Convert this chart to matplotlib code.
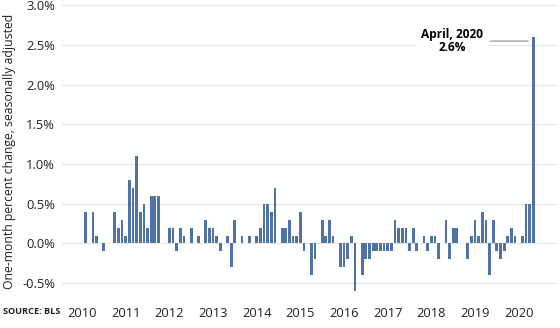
import matplotlib.pyplot as plt
from matplotlib.ticker import FuncFormatter

# monthly food-at-home CPI change, Jan 2010 - Apr 2020 (percent, SA)
pct_2010 = [0.4, 0.0, 0.4, 0.1, 0.0, -0.1, 0.0, 0.0, 0.4, 0.2, 0.3, 0.1]
pct_2011 = [0.8, 0.7, 1.1, 0.4, 0.5, 0.2, 0.6, 0.6, 0.6, 0.0, 0.0, 0.2]
pct_2012 = [0.2, -0.1, 0.2, 0.1, 0.0, 0.2, 0.0, 0.1, 0.0, 0.3, 0.2, 0.2]
pct_2013 = [0.1, -0.1, 0.0, 0.1, -0.3, 0.3, 0.0, 0.1, 0.0, 0.1, 0.0, 0.1]
pct_2014 = [0.2, 0.5, 0.5, 0.4, 0.7, 0.0, 0.2, 0.2, 0.3, 0.1, 0.1, 0.4]
pct_2015 = [-0.1, 0.0, -0.4, -0.2, 0.0, 0.3, 0.1, 0.3, 0.1, 0.0, -0.3, -0.3]
pct_2016 = [-0.2, 0.1, -0.6, 0.0, -0.4, -0.2, -0.2, -0.1, -0.1, -0.1, -0.1, -0.1]
pct_2017 = [-0.1, 0.3, 0.2, 0.2, 0.2, -0.1, 0.2, -0.1, 0.0, 0.1, -0.1, 0.1]
pct_2018 = [0.1, -0.2, 0.0, 0.3, -0.2, 0.2, 0.2, 0.0, 0.0, -0.2, 0.1, 0.3]
pct_2019 = [0.1, 0.4, 0.3, -0.4, 0.3, -0.1, -0.2, -0.1, 0.1, 0.2, 0.1, 0.0]
pct_2020 = [0.1, 0.5, 0.5, 2.6]

years = [2010, 2011, 2012, 2013, 2014, 2015, 2016, 2017, 2018, 2019, 2020]
yticks = [-0.5, 0.0, 0.5, 1.0, 1.5, 2.0, 2.5, 3.0]

values = (pct_2010 + pct_2011 + pct_2012 + pct_2013 + pct_2014 + pct_2015
          + pct_2016 + pct_2017 + pct_2018 + pct_2019 + pct_2020)
months = list(range(len(values)))

plt.rcParams['font.family'] = ['Open Sans', 'DejaVu Sans']

fig = plt.figure(figsize=(5.6, 3.28), dpi=100)
ax = fig.add_axes([62 / 560, 29 / 328, 496 / 560, 296 / 328])

ax.bar(months, values, width=0.75, color='#4f74a3', zorder=2)

ax.set_xlim(-6.5, 129.8)
ax.set_ylim(-0.7, 3.03)
ax.set_yticks(yticks)
ax.yaxis.set_major_formatter(FuncFormatter(lambda v, p: f'{v:.1f}%'))
ax.set_xticks([12 * (y - 2010) - 1 for y in years])
ax.set_xticklabels([str(y) for y in years])
ax.tick_params(length=0, labelsize=9.3, colors='#222222')
ax.tick_params(axis='x', pad=6)
ax.tick_params(axis='y', pad=5)
ax.grid(axis='y', color='#e8e8e8', linewidth=0.8, zorder=0)
for s in ax.spines.values():
    s.set_visible(False)

ax.set_ylabel('One-month percent change, seasonally adjusted',
              fontsize=8.8, color='#222222', labelpad=4)

# callout for the April 2020 spike
last = len(values) - 1
ax.annotate(f'April, 2020\n{values[-1]:.1f}%', xy=(last - 1.4, 2.55),
            xytext=(100.8, 2.55), ha='center', va='center',
            fontsize=8.6, fontweight='bold', linespacing=0.95,
            bbox=dict(facecolor='white', edgecolor='none', pad=3),
            arrowprops=dict(arrowstyle='-', color='#999999', lw=0.9,
                            shrinkA=2, shrinkB=0),
            zorder=3)

fig.text(3 / 560, 1 - 312 / 328, 'SOURCE: BLS', fontsize=6.6,
         fontweight='bold', va='center', ha='left', color='#222222')

fig.savefig('out.png', dpi=100)
